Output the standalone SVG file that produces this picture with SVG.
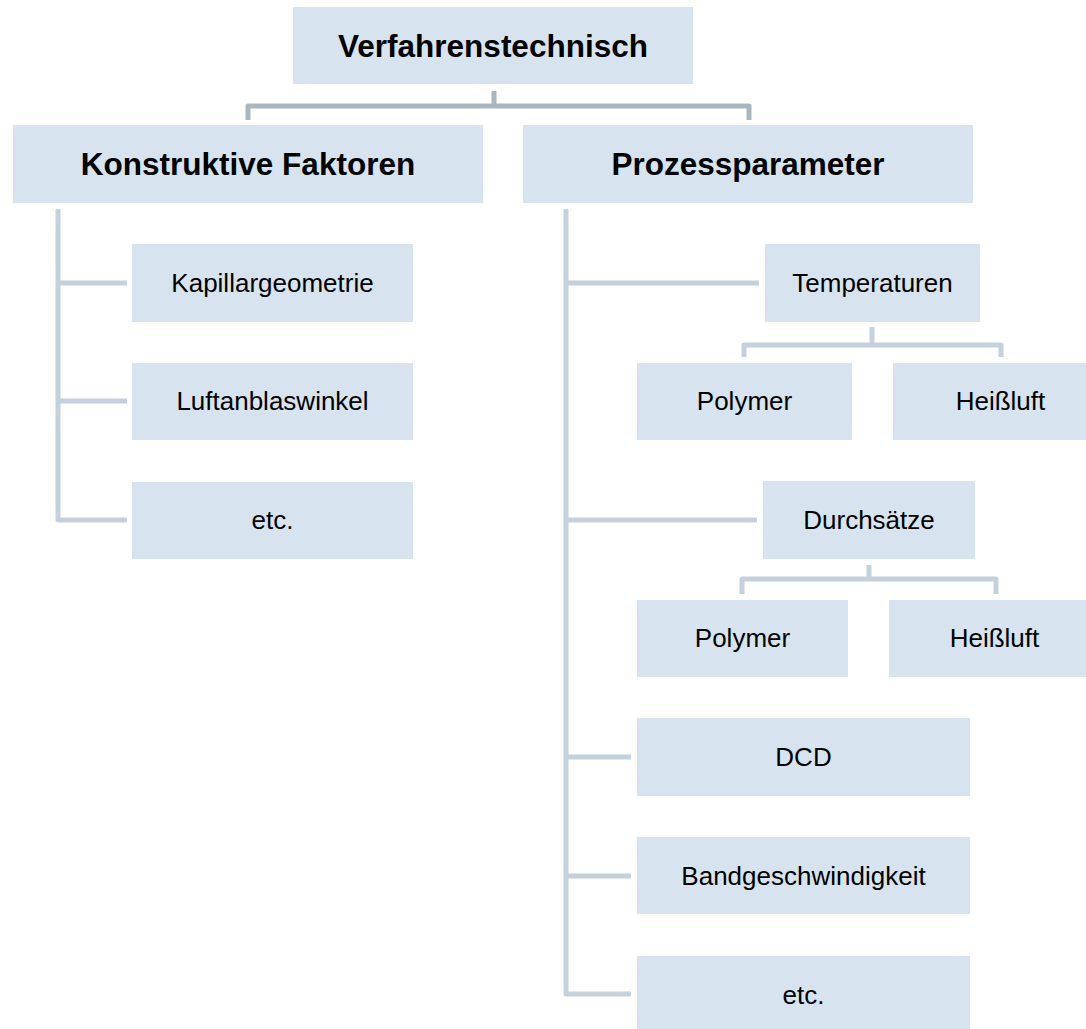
<svg xmlns="http://www.w3.org/2000/svg" width="1086" height="1029" viewBox="0 0 1086 1029">
<style>
.box{fill:#d7e4ef}
.t{font-family:"Liberation Sans",Arial,sans-serif;font-size:26px;fill:#000;text-anchor:middle}
.b{font-family:"Liberation Sans",Arial,sans-serif;font-size:31.5px;font-weight:bold;fill:#000;text-anchor:middle}
.c{fill:none;stroke:#c4d0db;stroke-width:5;stroke-linejoin:round}
.ct{fill:none;stroke:#abb5be;stroke-width:5;stroke-linejoin:round}
</style>
<rect width="1086" height="1029" fill="#ffffff"/>
<g id="connectors">
<path class="ct" d="M494,91 V106"/>
<path class="ct" d="M248,120 V106 H749 V120"/>
<path class="c" d="M58,209 V520 H127"/>
<path class="c" d="M58,283 H127"/>
<path class="c" d="M58,401 H127"/>
<path class="c" d="M566,209 V994 H631"/>
<path class="c" d="M566,283 H759"/>
<path class="c" d="M566,520 H757"/>
<path class="c" d="M566,757 H631"/>
<path class="c" d="M566,876 H631"/>
<path class="c" d="M872,327 V345"/>
<path class="c" d="M744,357 V345 H1001 V357"/>
<path class="c" d="M869,565 V579"/>
<path class="c" d="M742,594 V579 H996 V594"/>
</g>
<g id="n-verfahrenstechnisch"><rect class="box" x="293" y="7" width="400" height="77"/><text class="b" x="493" y="57">Verfahrenstechnisch</text></g>
<g id="n-konstruktive"><rect class="box" x="13" y="125" width="470" height="78"/><text class="b" x="248" y="175">Konstruktive Faktoren</text></g>
<g id="n-prozess"><rect class="box" x="523" y="125" width="450" height="78"/><text class="b" x="748" y="175">Prozessparameter</text></g>
<g id="n-kapillar"><rect class="box" x="132" y="244" width="281" height="78"/><text class="t" x="272.5" y="292">Kapillargeometrie</text></g>
<g id="n-luft"><rect class="box" x="132" y="363" width="281" height="77"/><text class="t" x="272.5" y="410">Luftanblaswinkel</text></g>
<g id="n-etc1"><rect class="box" x="132" y="482" width="281" height="77"/><text class="t" x="272.5" y="529">etc.</text></g>
<g id="n-temp"><rect class="box" x="765" y="244" width="215" height="78"/><text class="t" x="872.5" y="292">Temperaturen</text></g>
<g id="n-temp-polymer"><rect class="box" x="637" y="363" width="215" height="77"/><text class="t" x="744.5" y="410">Polymer</text></g>
<g id="n-temp-heiss"><rect class="box" x="893" y="363" width="215" height="77"/><text class="t" x="1000.5" y="410">Heißluft</text></g>
<g id="n-durch"><rect class="box" x="763" y="481" width="212" height="78"/><text class="t" x="869" y="529">Durchsätze</text></g>
<g id="n-durch-polymer"><rect class="box" x="637" y="600" width="211" height="77"/><text class="t" x="742.5" y="647">Polymer</text></g>
<g id="n-durch-heiss"><rect class="box" x="889" y="600" width="211" height="77"/><text class="t" x="994.5" y="647">Heißluft</text></g>
<g id="n-dcd"><rect class="box" x="637" y="718" width="333" height="78"/><text class="t" x="803.5" y="766">DCD</text></g>
<g id="n-band"><rect class="box" x="637" y="837" width="333" height="77"/><text class="t" x="803.5" y="884.5">Bandgeschwindigkeit</text></g>
<g id="n-etc2"><rect class="box" x="637" y="956" width="333" height="78"/><text class="t" x="803.5" y="1004">etc.</text></g>
</svg>
